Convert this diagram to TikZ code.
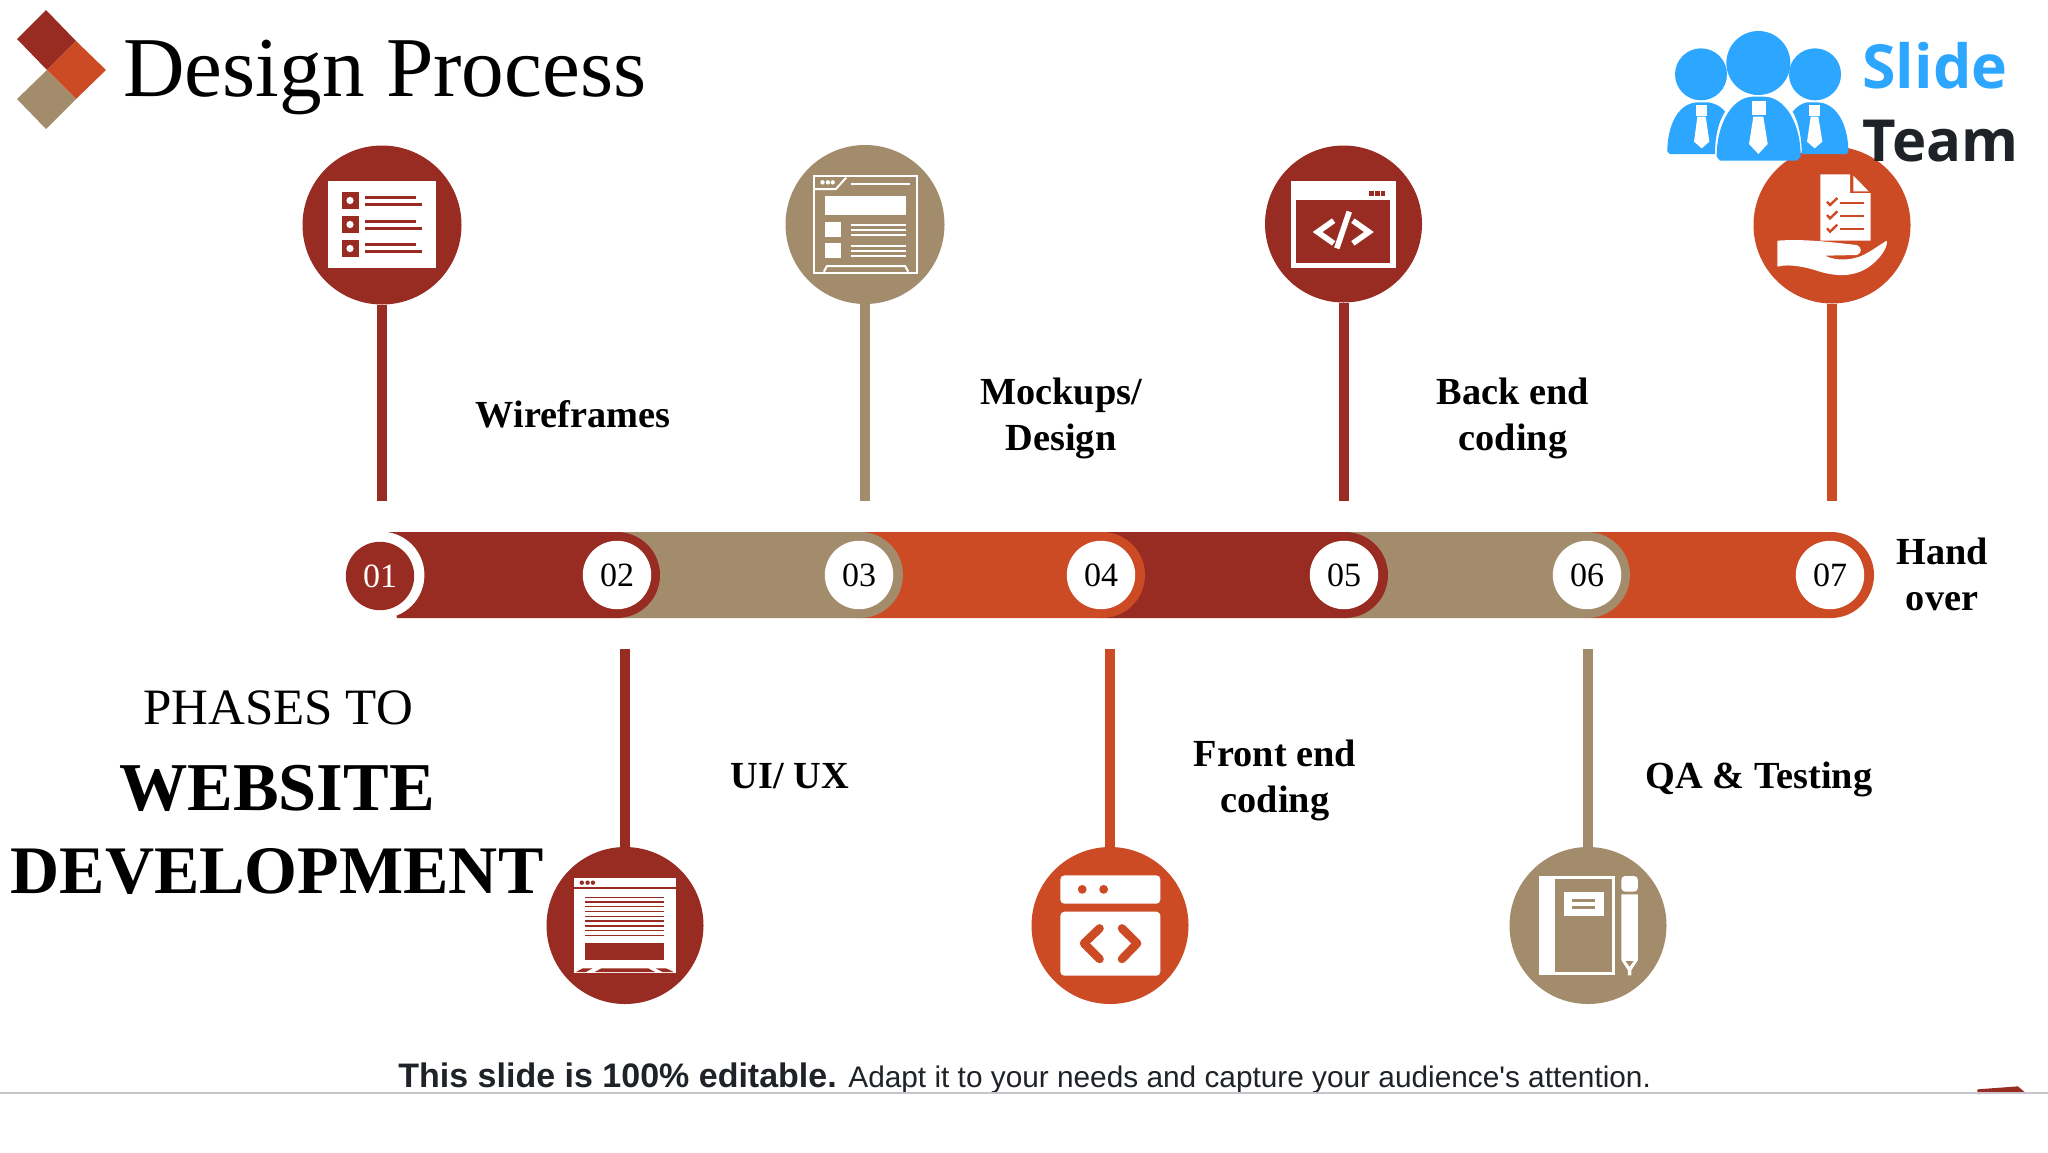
\documentclass[tikz,border=0pt]{standalone}
\usepackage{fontspec}
\setmainfont{Liberation Serif}
\newfontfamily\footfont{Liberation Sans}
\newfontfamily\logofont{Open Sans}
\definecolor{redc}{HTML}{982C23}
\definecolor{tanc}{HTML}{A38C6C}
\definecolor{orac}{HTML}{CC4A24}
\definecolor{bluec}{HTML}{2CA6FF}
\definecolor{inkc}{HTML}{1F2328}
\tikzset{
  big/.style={circle,inner sep=0pt,minimum size=78.5pt,fill=#1},
  num/.style={circle,inner sep=0pt,minimum size=34.2pt,fill=white,font=\fontsize{17}{17}\selectfont},
  stem/.style={line width=5pt,#1},
  lab/.style={inner sep=0pt,align=center,font=\bfseries\fontsize{19.15}{23}\selectfont},
  zoomA/.style={shift={#1},x=0.2232pt,y=-0.16667pt},
  zoomB/.style={shift={#1},x=0.16667pt,y=-0.16667pt},
  zoomC/.style={shift={#1},x=0.1811pt,y=-0.16667pt},
}
\begin{document}
\begin{tikzpicture}[x=0.5pt,y=-0.5pt]
\useasboundingbox (0,0) rectangle (2048,1152);
\fill[white] (0,0) rectangle (2048,1152);
% logo diamonds
\fill[redc] (46,10) -- (76,41) -- (47,70) -- (17,39) -- cycle;
\fill[orac] (76,41) -- (106,70) -- (76,99) -- (47,70) -- cycle;
\fill[tanc] (47,70) -- (76,99) -- (46,129) -- (17,99) -- cycle;
\node[anchor=base west,inner sep=0pt,font=\fontsize{42.6}{43}\selectfont] (title) at (123,96) {Design Process};
% bar
\fill[orac] (1587,532) -- (1831,532) arc[start angle=90,end angle=-90,radius=21.5pt] -- (1587,618) -- cycle;
\fill[tanc] (1344,532) -- (1587,532) arc[start angle=90,end angle=-90,radius=21.5pt] -- (1344,618) -- cycle;
\fill[redc] (1101,532) -- (1345,532) arc[start angle=90,end angle=-90,radius=21.5pt] -- (1101,618) -- cycle;
\fill[orac] (859,532) -- (1102,532) arc[start angle=90,end angle=-90,radius=21.5pt] -- (859,618) -- cycle;
\fill[tanc] (617,532) -- (860,532) arc[start angle=90,end angle=-90,radius=21.5pt] -- (617,618) -- cycle;
\fill[redc] (376,532) -- (617,532) arc[start angle=90,end angle=-90,radius=21.5pt] -- (397,618) -- cycle;
\fill[white] (381,575) circle[radius=21.7pt];
\node[circle,inner sep=0pt,minimum size=34.2pt,fill=redc,text=white,font=\fontsize{17}{17}\selectfont] (n1) at (380,576) {01};
\node[num] (n2) at (617,575) {02};
\node[num] (n3) at (859,575) {03};
\node[num] (n4) at (1101,575) {04};
\node[num] (n5) at (1344,575) {05};
\node[num] (n6) at (1587,575) {06};
\node[num] (n7) at (1830,575) {07};
% big circles
\node[big=redc,minimum size=79.5pt] (c1) at (382,225) {};
\node[big=tanc,minimum size=79.5pt] (c2) at (865,224.5) {};
\node[big=redc] (c3) at (1343.5,224) {};
\node[big=orac] (c4) at (1832,225) {};
\node[big=redc] (c5) at (625,925.5) {};
\node[big=orac] (c6) at (1110,925.5) {};
\node[big=tanc] (c7) at (1588,925.5) {};
\coordinate (s1) at (382,501);
\coordinate (s2) at (865,501);
\coordinate (s3) at (1343.5,501);
\coordinate (s4) at (1832,501);
\coordinate (s5) at (625,649);
\coordinate (s6) at (1110,649);
\coordinate (s7) at (1588,649);
\draw[stem=redc] (c1) -- (s1);
\draw[stem=tanc] (c2) -- (s2);
\draw[stem=redc] (c3) -- (s3);
\draw[stem=orac] (c4) -- (s4);
\draw[stem=redc] (c5) -- (s5);
\draw[stem=orac] (c6) -- (s6);
\draw[stem=tanc] (c7) -- (s7);
% icon 1
\fill[white] (328,181) rectangle (436,268);
\foreach \yy/\la/\lb in {192/197/204,216/221/228,240/244.5/251.5}{
  \fill[redc] (341.5,\yy) rectangle (358.5,\yy+17);
  \fill[white] (350,\yy+8.5) circle[radius=1.8pt];
  \draw[redc,line width=1.5pt] (365,\la) -- (415.6,\la);
  \draw[redc,line width=1.5pt] (365,\lb) -- (422,\lb);
}
% icon 2
\begin{scope}[zoomA={(760,130)}]
\draw[white,line width=1pt] (121,139) rectangle (351,428);
\draw[white,line width=1pt] (121,177) -- (170,177) -- (193,143);
\foreach \xx in {140,152,163} \fill[white] (\xx,157) circle[radius=1.1pt];
\draw[white,line width=1pt] (204,161) -- (335,161);
\fill[white] (145,199) rectangle (327,254);
\fill[white] (145,277) rectangle (182,322);
\fill[white] (145,340) rectangle (182,385);
\foreach \yy in {285,299,315,348,362,378} \draw[white,line width=0.9pt] (203,\yy) -- (327,\yy);
\draw[white,line width=1pt] (143,425) -- (150,408) -- (325,408) -- (332,425);
% icon 3
\fill[white] (1190,152) rectangle (1424,415);
\fill[redc] (1201,211) rectangle (1412,398);
\foreach \xx in {1365,1378,1391} \fill[redc] (\xx,183) rectangle (\xx+10,197);
\draw[white,line width=2.8pt,line join=miter] (1285,272) -- (1249,306) -- (1285,340);
\draw[white,line width=2.8pt,line join=miter] (1328,272) -- (1364,306) -- (1328,340);
\draw[white,line width=2.8pt] (1320,245) -- (1292,355);
\end{scope}
% icon 4
\begin{scope}[zoomB={(1640,0)}]
\fill[white] (541,523) -- (630,523) -- (630,579) -- (692,579) -- (692,722) -- (541,722) -- cycle;
\fill[white] (640,527) -- (686,574) -- (640,574) -- cycle;
\foreach \yy in {0,40,80} {
  \draw[orac,line width=1.2pt] (561,\yy+605) -- (570,\yy+615) -- (592,\yy+594);
  \draw[orac,line width=1.1pt] (600,\yy+608) -- (672,\yy+608);
}
\fill[white] (412,722) .. controls (500,715) and (600,730) .. (650,735)
  .. controls (665,740) and (668,760) .. (650,765) -- (555,767)
  .. controls (590,785) and (640,780) .. (670,765)
  .. controls (700,750) and (725,730) .. (740,722)
  .. controls (745,740) and (720,780) .. (680,805)
  .. controls (640,830) and (590,830) .. (540,815)
  .. controls (500,802) and (450,790) .. (412,800) -- cycle;
% slide team logo
\fill[bluec] (183,223) circle[radius=13pt];
\fill[bluec] (355,189) circle[radius=16pt];
\fill[bluec] (525,223) circle[radius=13pt];
\fill[bluec] (82,455) .. controls (82,375) and (115,307) .. (175,307) -- (205,307) .. controls (225,310) and (245,320) .. (255,335) .. controls (235,365) and (225,410) .. (225,462) -- (90,462) -- cycle;
\fill[bluec] (625,455) .. controls (625,375) and (590,307) .. (530,307) -- (500,307) .. controls (485,310) and (470,320) .. (458,335) .. controls (475,365) and (485,410) .. (485,462) -- (620,462) -- cycle;
\fill[bluec] (230,470) .. controls (230,365) and (280,290) .. (340,290) -- (372,290) .. controls (432,290) and (482,365) .. (482,470) -- (470,482) -- (240,482) -- cycle;
\fill[white] (335,303) rectangle (377,345);
\fill[white] (340,350) -- (370,350) -- (383,432) -- (355,462) -- (327,432) -- cycle;
\fill[white] (168,316) rectangle (200,348);
\fill[white] (172,350) -- (197,350) -- (208,425) -- (185,445) -- (162,425) -- cycle;
\fill[white] (507,316) rectangle (540,348);
\fill[white] (512,350) -- (535,350) -- (547,425) -- (524,445) -- (501,425) -- cycle;
\end{scope}
\node[anchor=base west,inner sep=0pt,text=bluec,font=\logofont\bfseries\fontsize{30.4}{32}\selectfont] (slide) at (1862,88) {Slide};
\node[anchor=base west,inner sep=0pt,text=inkc,font=\logofont\bfseries\fontsize{29}{30}\selectfont] (team) at (1862,161) {Team};
% icons 5 and 6
\begin{scope}[zoomA={(530,830)}]
\fill[white] (98,143) rectangle (327,430);
\draw[redc,line width=0.7pt] (98,174) -- (327,174);
\foreach \xx in {116,129,141} \fill[redc] (\xx,158) circle[radius=1.1pt];
\foreach \yy in {202,216,230,245,259,273,288,302,317} \draw[redc,line width=0.8pt] (123,\yy) -- (301,\yy);
\fill[redc] (123,339) rectangle (301,390);
\fill[redc] (103,426) -- (118,415) -- (140,415) -- (125,426) -- cycle;
\fill[redc] (145,426) -- (160,415) -- (265,415) -- (280,426) -- cycle;
\fill[redc] (297,426) -- (282,415) -- (305,415) -- (322,426) -- cycle;
\fill[white,rounded corners=2pt] (1188,221) -- (1188,136) -- (1412,136) -- (1412,221) -- cycle;
\fill[white,rounded corners=2pt] (1188,245) -- (1412,245) -- (1412,437) -- (1188,437) -- cycle;
\fill[orac] (1237,178) circle[radius=2.2pt];
\fill[orac] (1285,178) circle[radius=2.2pt];
\draw[orac,line width=4.2pt,line cap=round,line join=round] (1276,295) -- (1241,340) -- (1276,387);
\draw[orac,line width=4.2pt,line cap=round,line join=round] (1326,295) -- (1360,340) -- (1326,387);
\end{scope}
% icon 7
\begin{scope}[zoomC={(1480,830)}]
\fill[white] (162,138) rectangle (373,436);
\fill[tanc] (208,148) rectangle (363,425);
\fill[white] (231,187) rectangle (342,257);
\fill[tanc] (254,208) rectangle (318,216);
\fill[tanc] (254,229) rectangle (318,237);
\fill[white,rounded corners=2pt] (390,185) -- (390,138) -- (436,138) -- (436,185) -- cycle;
\fill[white] (390,193) -- (436,193) -- (436,390) -- (418,420) -- (418,436) -- (408,436) -- (408,420) -- (390,390) -- cycle;
\fill[tanc] (402,393) -- (424,393) -- (413,410) -- cycle;
\fill[redc] (1373,778) -- (1485,769) -- (1508,790) -- (1373,792) -- cycle;
\end{scope}
% labels
\node[lab] (l1) at (573,414) {Wireframes};
\node[lab] (l2) at (1061,418) {Mockups/\\Design};
\node[lab] (l3) at (1513,418) {Back end\\coding};
\node[lab] (l4) at (1942,574) {Hand\\over};
\node[lab] (l5) at (790,776) {UI/ UX};
\node[lab] (l6) at (1275,780) {Front end\\coding};
\node[lab] (l7) at (1759,779) {QA \& Testing};
\node[inner sep=0pt,font=\fontsize{25.5}{25.5}\selectfont] (p1) at (278,708) {PHASES TO};
\node[inner sep=0pt,font=\bfseries\fontsize{34.2}{34}\selectfont] (p2) at (277,788) {WEBSITE};
\node[inner sep=0pt,font=\bfseries\fontsize{34}{34}\selectfont] (p3) at (277,871) {DEVELOPMENT};
% footer
\node[anchor=base west,inner sep=0pt,text=inkc,font=\footfont\bfseries\fontsize{17}{17}\selectfont] (f1) at (398,1087) {This slide is 100\% editable.};
\node[anchor=base west,inner sep=0pt,text=inkc,font=\footfont\fontsize{14.9}{15}\selectfont] (f2) at (848,1087) {Adapt it to your needs and capture your audience's attention.};
\coordinate (rl) at (0,1093);
\coordinate (rr) at (2048,1093);
\draw[color={rgb,255:red,200;green,196;blue,204},line width=0.6pt] (rl) -- (rr);
\end{tikzpicture}
\end{document}
